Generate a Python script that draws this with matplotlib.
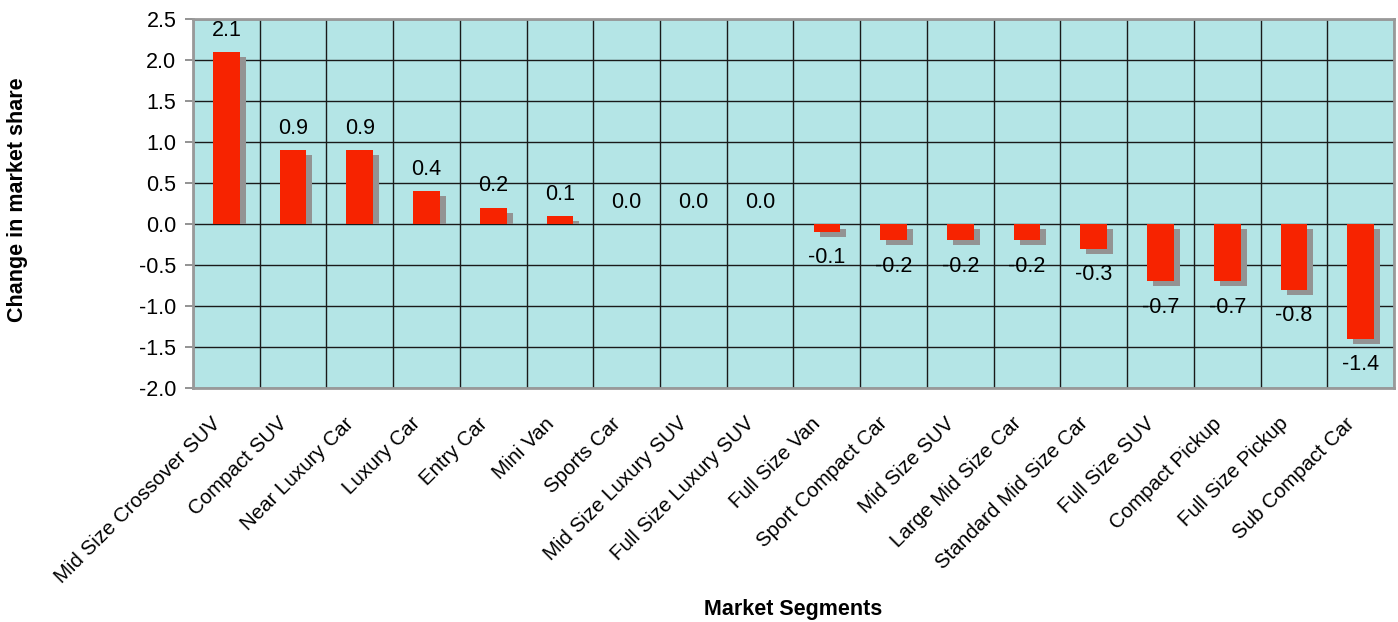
import matplotlib
matplotlib.use("Agg")
import matplotlib.pyplot as plt
import matplotlib.transforms as mtransforms
import numpy as np

segments = [
    "Mid Size Crossover SUV", "Compact SUV", "Near Luxury Car", "Luxury Car",
    "Entry Car", "Mini Van", "Sports Car", "Mid Size Luxury SUV",
    "Full Size Luxury SUV", "Full Size Van", "Sport Compact Car", "Mid Size SUV",
    "Large Mid Size Car", "Standard Mid Size Car", "Full Size SUV",
    "Compact Pickup", "Full Size Pickup", "Sub Compact Car",
]
share_change = [2.1, 0.9, 0.9, 0.4, 0.2, 0.1, 0.0, 0.0, 0.0,
                -0.1, -0.2, -0.2, -0.2, -0.3, -0.7, -0.7, -0.8, -1.4]
y_ticks = [-2.0, -1.5, -1.0, -0.5, 0.0, 0.5, 1.0, 1.5, 2.0, 2.5]

plt.rcParams["font.family"] = ["Liberation Sans", "DejaVu Sans"]
FS = 15.5

fig = plt.figure(figsize=(13.98, 6.22), dpi=100)
ax = fig.add_axes([193 / 1398, 1 - 388 / 622, (1394 - 193) / 1398, (388 - 19) / 622])

n = len(segments)
x = np.arange(n)
bar_w = 0.40
sx, sy = 0.09, 0.06  # drop-shadow offset in data units

ax.set_facecolor("#b4e5e6")
ax.set_xlim(-0.5, n - 0.5)
ax.set_ylim(-2.0, 2.5)

# grid: category boundaries and every 0.5
for b in np.arange(n + 1) - 0.5:
    ax.axvline(b, color="#1a1a1a", lw=1.0, zorder=1)
for t in y_ticks:
    ax.axhline(t, color="#1a1a1a", lw=1.0, zorder=1)

vals = np.array(share_change)
shadow_bottom = np.where(vals > 0, 0.0, -sy)
shadow_top = vals - sy
shadow_h = np.where(vals > 0, np.maximum(shadow_top, 0), shadow_top - shadow_bottom)
mask = vals != 0
ax.bar(x[mask] + sx, shadow_h[mask], bottom=shadow_bottom[mask], width=bar_w,
       color="#939393", zorder=2, linewidth=0)
ax.bar(x, vals, width=bar_w, color="#f72300", zorder=3, linewidth=0)

for xi, v in zip(x, vals):
    if v >= 0:
        ax.annotate(f"{v:.1f}", (xi, v), xytext=(0, 8), textcoords="offset points",
                    ha="center", va="bottom", fontsize=FS, zorder=4)
    else:
        ax.annotate(f"{v:.1f}", (xi, v), xytext=(0, -11), textcoords="offset points",
                    ha="center", va="top", fontsize=FS, zorder=4)

ax.set_yticks(y_ticks)
ax.set_yticklabels([f"{t:.1f}" for t in y_ticks], fontsize=FS)
ax.set_xticks(x)
ax.set_xticklabels(segments, rotation=45, ha="right", va="center",
                   rotation_mode="anchor", fontsize=14.8)
ax.tick_params(axis="x", length=0, pad=22)
ax.tick_params(axis="y", length=6, color="#808080", width=1.2, pad=6)

shift = mtransforms.ScaledTranslation(-9 / 100, -2 / 100, fig.dpi_scale_trans)
for lbl in ax.get_xticklabels():
    lbl.set_transform(lbl.get_transform() + shift)

for s in ax.spines.values():
    s.set_color("#999999")
    s.set_linewidth(2.0)
    s.set_zorder(5)

fig.text(18 / 1398, 1 - 200 / 622, "Change in market share", rotation=90,
         ha="center", va="center", fontsize=FS, fontweight="bold")
fig.text(793 / 1398, 1 - 609 / 622, "Market Segments",
         ha="center", va="center", fontsize=FS, fontweight="bold")

fig.savefig("out.png", dpi=100)
